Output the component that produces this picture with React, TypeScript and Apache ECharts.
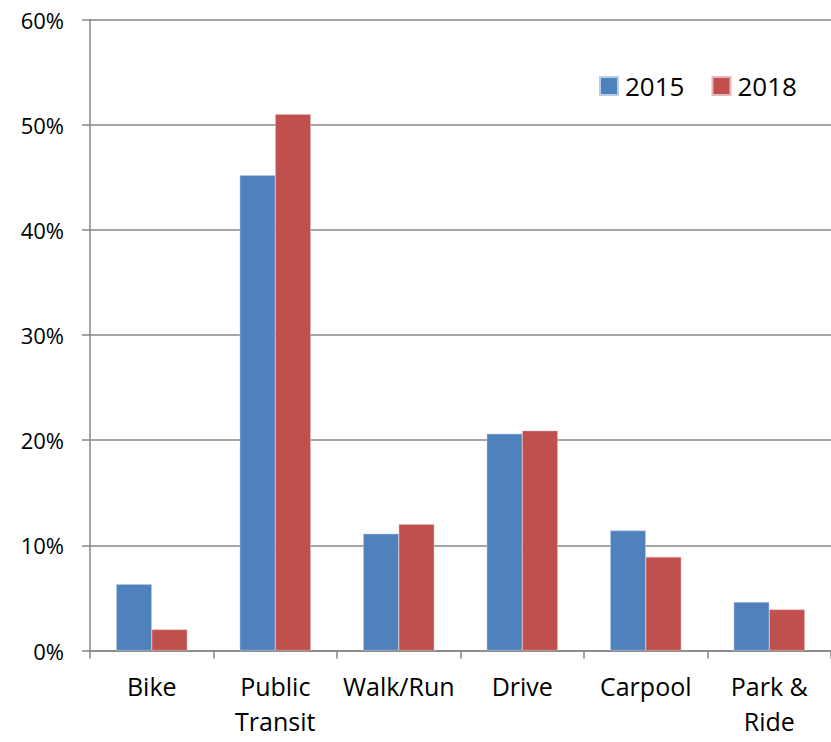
import React, { useEffect, useRef } from "react";
import * as echarts from "echarts";

const categories = ["Bike", "Public\nTransit", "Walk/Run", "Drive", "Carpool", "Park &\nRide"];
const seriesNames = ["2015", "2018"];
const values2015 = [6.3, 45.2, 11.1, 20.6, 11.4, 4.6];
const values2018 = [2.0, 51.0, 12.0, 20.9, 8.9, 3.9];
const yTicks = { min: 0, max: 60, interval: 10 };

const FONT = "Open Sans";

export default function App() {
  const ref = useRef<HTMLDivElement>(null);
  useEffect(() => {
    if (!ref.current) return;
    const chart = echarts.init(ref.current, undefined, { renderer: "svg" });
    chart.setOption({
      animation: false,
      backgroundColor: "#ffffff",
      textStyle: { fontFamily: FONT, color: "#000" },
      grid: { left: 90, top: 19.5, bottom: 91.5, width: 744, containLabel: false },
      legend: {
        data: seriesNames,
        left: 594,
        top: 68,
        itemWidth: 18,
        itemHeight: 18,
        itemGap: 27,
        icon: "rect",
        textStyle: { fontFamily: FONT, fontSize: 26, color: "#000", lineHeight: 18, padding: [0, 0, 0, 2] },
      },
      xAxis: {
        type: "category",
        data: categories,
        axisLine: { show: true, lineStyle: { color: "#868686", width: 1.5 } },
        axisTick: { show: true, length: 8, inside: false, alignWithLabel: false, lineStyle: { color: "#868686", width: 1.5 } },
        axisLabel: {
          interval: 0,
          margin: 18,
          fontFamily: FONT,
          fontSize: 25,
          lineHeight: 35,
          color: "#000",
        },
        splitLine: { show: false },
      },
      yAxis: {
        type: "value",
        min: yTicks.min,
        max: yTicks.max,
        interval: yTicks.interval,
        axisLine: { show: true, lineStyle: { color: "#868686", width: 1.5 } },
        axisTick: { show: true, length: 8, inside: false, lineStyle: { color: "#868686", width: 1.5 } },
        axisLabel: {
          formatter: "{value}%",
          margin: 26,
          fontFamily: FONT,
          fontSize: 22,
          color: "#000",
        },
        splitLine: { show: true, lineStyle: { color: "#878787", width: 1.5 } },
      },
      series: [
        {
          name: seriesNames[0],
          type: "bar",
          data: values2015,
          barWidth: 35.5,
          barGap: "0%",
          itemStyle: { color: "#4F81BD", borderColor: "#B9CDE5", borderWidth: 0.5 },
        },
        {
          name: seriesNames[1],
          type: "bar",
          data: values2018,
          barWidth: 35.5,
          barGap: "0%",
          itemStyle: { color: "#C0504D", borderColor: "#E6B9B8", borderWidth: 0.5 },
        },
      ],
    });
    return () => chart.dispose();
  }, []);
  return (
    <div
      ref={ref}
      style={{ position: "absolute", left: 0, top: 0, width: 831, height: 742 }}
    />
  );
}
